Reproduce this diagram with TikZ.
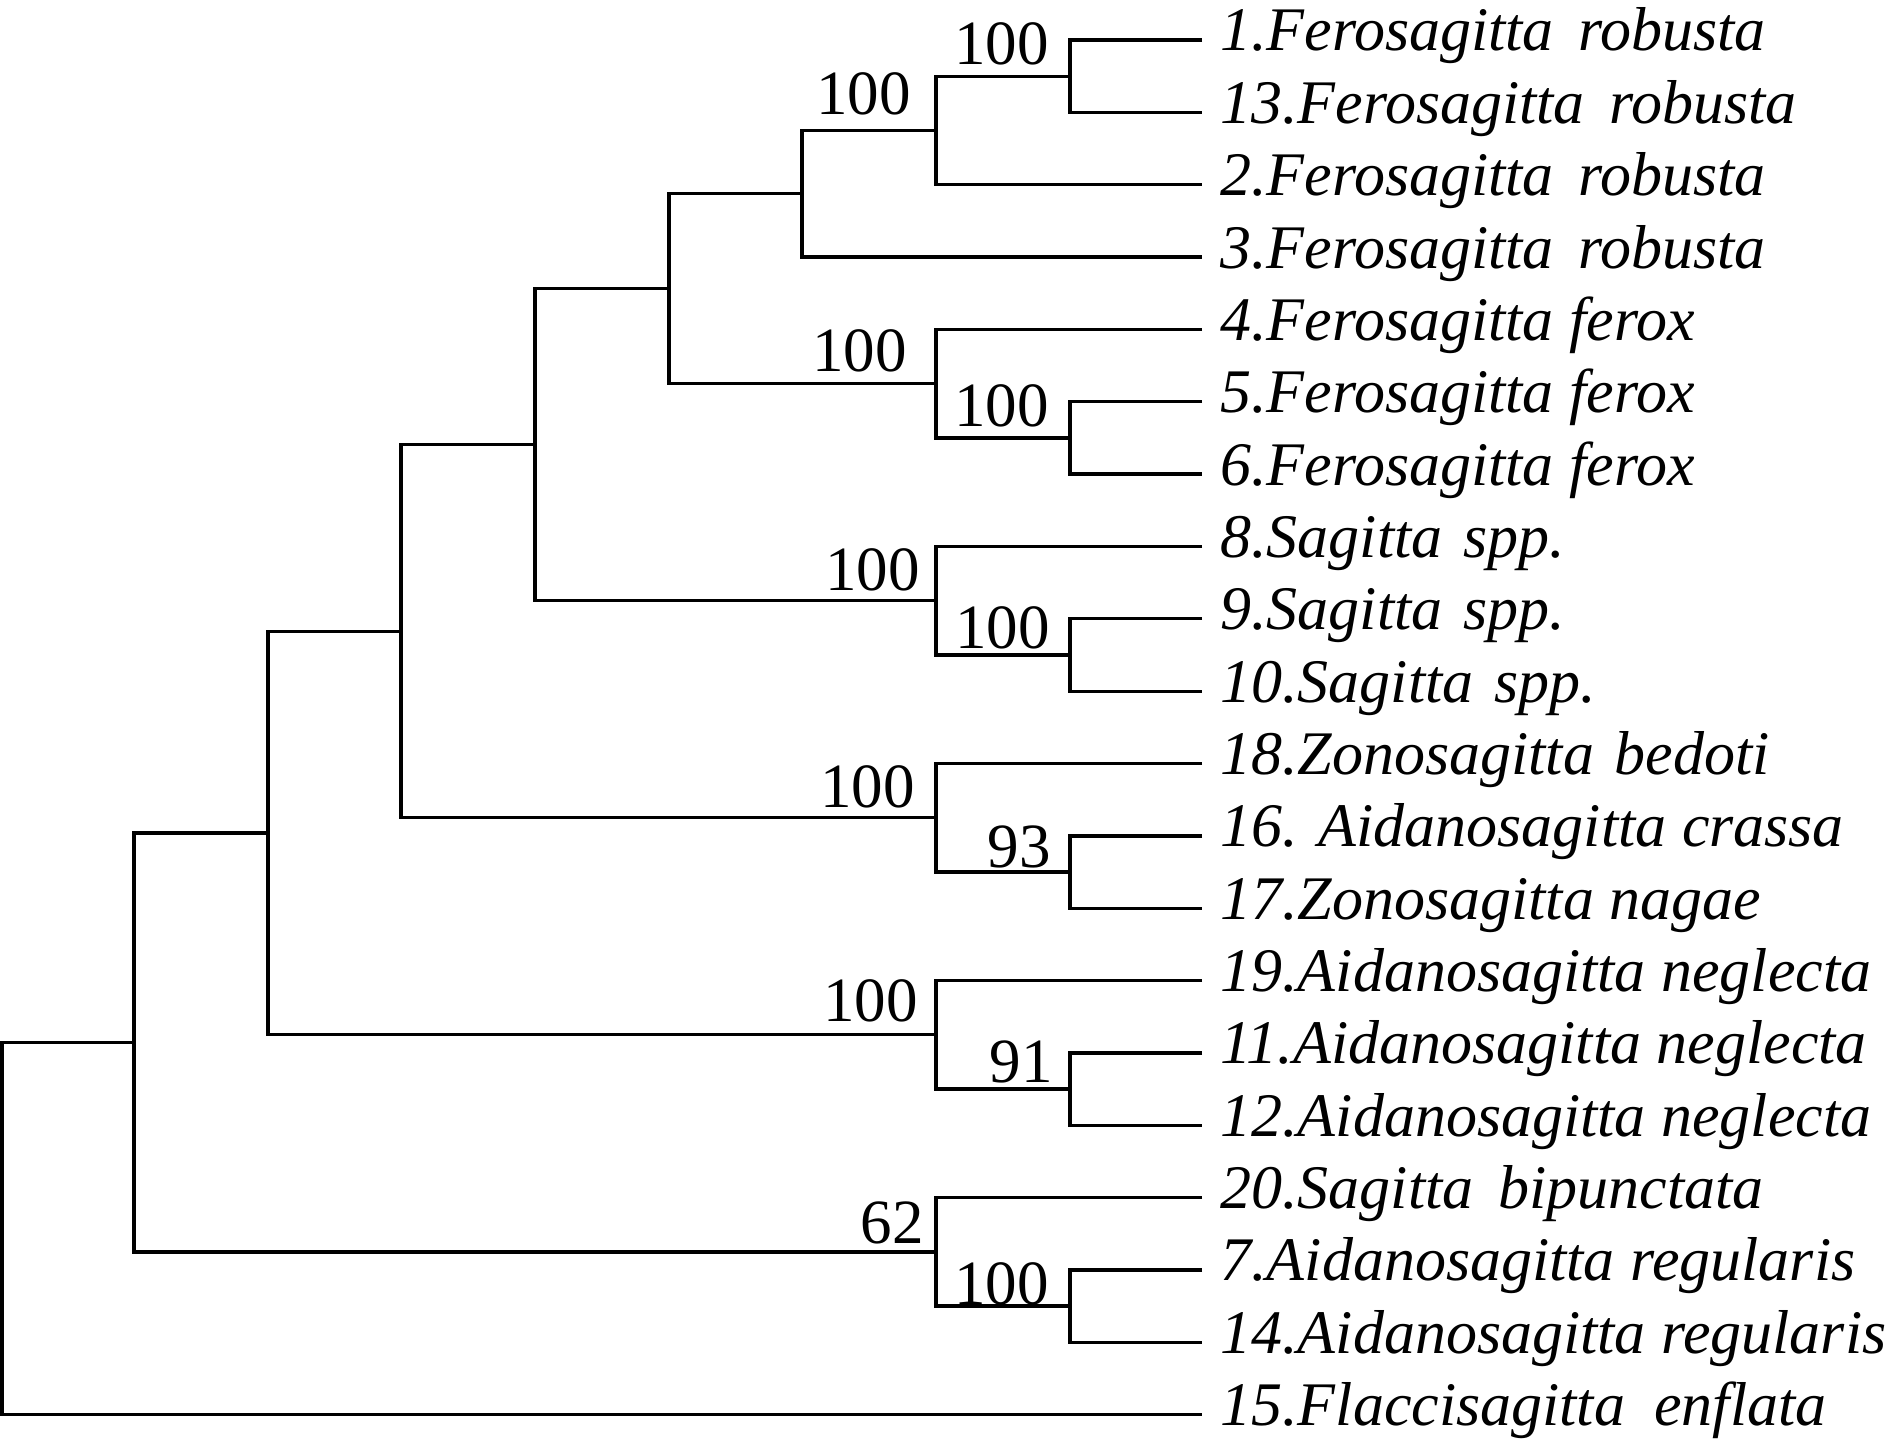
\documentclass[tikz,border=0pt]{standalone}
\usepackage{fontspec}
\setmainfont{Liberation Serif}
\begin{document}
\begin{tikzpicture}[x=0.5pt,y=-0.5pt,
  br/.style={line width=1.65pt,line join=miter,line cap=butt},
  leaflab/.style={anchor=base west,inner sep=0pt,font=\fontsize{31}{37}\selectfont\itshape},
  bs/.style={anchor=base east,inner sep=0pt,font=\fontsize{31.5}{37}\selectfont}]
\useasboundingbox (0,0) rectangle (1889,1450);
% leaf endpoints
\coordinate (l1)  at (1202,40.0);
\coordinate (l13) at (1202,112.35);
\coordinate (l2)  at (1202,184.7);
\coordinate (l3)  at (1202,257.05);
\coordinate (l4)  at (1202,329.4);
\coordinate (l5)  at (1202,401.75);
\coordinate (l6)  at (1202,474.1);
\coordinate (l8)  at (1202,546.45);
\coordinate (l9)  at (1202,618.8);
\coordinate (l10) at (1202,691.15);
\coordinate (l18) at (1202,763.5);
\coordinate (l16) at (1202,835.85);
\coordinate (l17) at (1202,908.2);
\coordinate (l19) at (1202,980.55);
\coordinate (l11) at (1202,1052.9);
\coordinate (l12) at (1202,1125.25);
\coordinate (l20) at (1202,1197.6);
\coordinate (l7)  at (1202,1269.95);
\coordinate (l14) at (1202,1342.3);
\coordinate (l15) at (1202,1414.65);
% internal nodes
\coordinate (A) at (1070,76.2);
\coordinate (B) at (936,130.4);
\coordinate (C) at (802,193.7);
\coordinate (D) at (1070,437.9);
\coordinate (E) at (936,383.7);
\coordinate (F) at (669,288.7);
\coordinate (G) at (1070,655.0);
\coordinate (H) at (936,600.7);
\coordinate (I) at (535,444.7);
\coordinate (J) at (1070,872.0);
\coordinate (K) at (936,817.8);
\coordinate (L) at (401,631.2);
\coordinate (M) at (1070,1089.1);
\coordinate (N) at (936,1034.8);
\coordinate (O) at (268,833.0);
\coordinate (P) at (1070,1306.1);
\coordinate (Q) at (936,1251.9);
\coordinate (R) at (134,1042.4);
\coordinate (Root) at (2,1228.5);
% branches
\draw[br] (l1) -| (A) |- (l13);
\draw[br] (A) -| (B) |- (l2);
\draw[br] (B) -| (C) |- (l3);
\draw[br] (l5) -| (D) |- (l6);
\draw[br] (l4) -| (E) |- (D);
\draw[br] (C) -| (F) |- (E);
\draw[br] (l9) -| (G) |- (l10);
\draw[br] (l8) -| (H) |- (G);
\draw[br] (F) -| (I) |- (H);
\draw[br] (l16) -| (J) |- (l17);
\draw[br] (l18) -| (K) |- (J);
\draw[br] (I) -| (L) |- (K);
\draw[br] (l11) -| (M) |- (l12);
\draw[br] (l19) -| (N) |- (M);
\draw[br] (L) -| (O) |- (N);
\draw[br] (l7) -| (P) |- (l14);
\draw[br] (l20) -| (Q) |- (P);
\draw[br] (O) -| (R) |- (Q);
\draw[br] (R) -| (Root) |- (l15);
% leaf labels
\node[leaflab] (t1)  at (1220,51.0)    {1.Ferosagitta\hspace{0.15em} robusta};
\node[leaflab] (t13) at (1220,123.35)  {13.Ferosagitta\hspace{0.15em} robusta};
\node[leaflab] (t2)  at (1220,195.7)   {2.Ferosagitta\hspace{0.15em} robusta};
\node[leaflab] (t3)  at (1220,268.05)  {3.Ferosagitta\hspace{0.15em} robusta};
\node[leaflab] (t4)  at (1220,340.4)   {4.Ferosagitta ferox};
\node[leaflab] (t5)  at (1220,412.75)  {5.Ferosagitta ferox};
\node[leaflab] (t6)  at (1220,485.1)   {6.Ferosagitta ferox};
\node[leaflab] (t8)  at (1220,557.45)  {8.Sagitta\hspace{0.08em} spp.};
\node[leaflab] (t9)  at (1220,629.8)   {9.Sagitta\hspace{0.08em} spp.};
\node[leaflab] (t10) at (1220,702.15)  {10.Sagitta\hspace{0.08em} spp.};
\node[leaflab] (t18) at (1220,774.5)   {18.Zonosagitta\hspace{0.08em} bedoti};
\node[leaflab] (t16) at (1220,846.85)  {16. Aidanosagitta crassa};
\node[leaflab] (t17) at (1220,919.2)   {17.Zonosagitta nagae};
\node[leaflab] (t19) at (1220,991.55)  {19.Aidanosagitta neglecta};
\node[leaflab] (t11) at (1220,1063.9)  {11.Aidanosagitta neglecta};
\node[leaflab] (t12) at (1220,1136.25) {12.Aidanosagitta neglecta};
\node[leaflab] (t20) at (1220,1208.6)  {20.Sagitta\hspace{0.15em} bipunctata};
\node[leaflab] (t7)  at (1220,1280.95) {7.Aidanosagitta regularis};
\node[leaflab] (t14) at (1220,1353.3)  {14.Aidanosagitta regularis};
\node[leaflab] (t15) at (1220,1425.65) {15.Flaccisagitta\hspace{0.22em} enflata};
% bootstrap values
\node[bs] (bA) at (1049,65)   {100};
\node[bs] (bB) at (911,115)   {100};
\node[bs] (bD) at (1049,426)  {100};
\node[bs] (bE) at (907,371)   {100};
\node[bs] (bG) at (1050,648)  {100};
\node[bs] (bH) at (920,590)   {100};
\node[bs] (bJ) at (1051,867)  {93};
\node[bs] (bK) at (915,807)   {100};
\node[bs] (bM) at (1053,1082) {91};
\node[bs] (bN) at (918,1021)  {100};
\node[bs] (bQ) at (924,1243)  {62};
\node[bs] (bP) at (1049,1304) {100};
\end{tikzpicture}
\end{document}
